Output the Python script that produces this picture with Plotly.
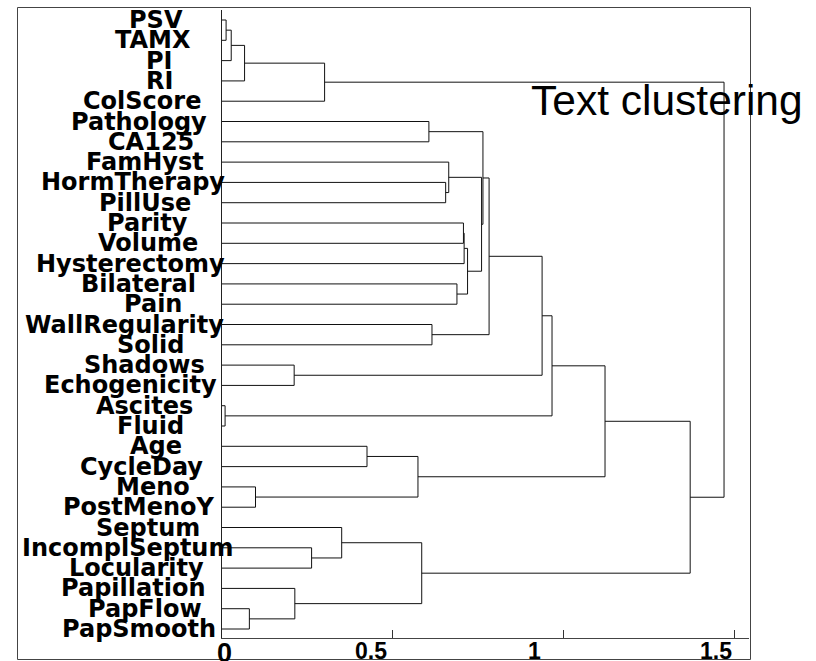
import plotly.graph_objects as go

# Leaf variables, top to bottom
leaves = [
    "PSV", "TAMX", "PI", "RI", "ColScore", "Pathology", "CA125", "FamHyst",
    "HormTherapy", "PillUse", "Parity", "Volume", "Hysterectomy", "Bilateral",
    "Pain", "WallRegularity", "Solid", "Shadows", "Echogenicity", "Ascites",
    "Fluid", "Age", "CycleDay", "Meno", "PostMenoY", "Septum", "IncomplSeptum",
    "Locularity", "Papillation", "PapFlow", "PapSmooth",
]

# Agglomeration steps: (left id, right id, merge height).
# Ids 0..30 are leaves; merge k creates cluster id 31 + k.
merge_left = [0, 31, 32, 33, 5, 8, 7, 10, 38, 13, 39, 37, 35, 15, 43,
              17, 45, 19, 47, 21, 23, 50, 49, 26, 25, 29, 28, 55, 53, 34]
merge_right = [1, 2, 3, 4, 6, 9, 36, 11, 12, 14, 40, 41, 42, 16, 44,
               18, 46, 20, 48, 22, 24, 51, 52, 27, 54, 30, 56, 57, 58, 59]
merge_height = [0.012, 0.027, 0.066, 0.300, 0.605, 0.654, 0.663, 0.706, 0.708,
                0.687, 0.718, 0.759, 0.763, 0.614, 0.781, 0.211, 0.936, 0.009,
                0.965, 0.424, 0.098, 0.573, 1.120, 0.262, 0.350, 0.080, 0.213,
                0.584, 1.369, 1.468]

tick_values = [0, 0.5, 1, 1.5]
tick_text = ["0", "0.5", "1", "1.5"]

# ---- page geometry (pixels) ----
W, H = 816, 661
ML, MR, MT, MB = 222, 67, 10, 23
PW, PH = W - ML - MR, H - MT - MB

def px_to_paper_x(px):
    return (px - ML) / PW

def py_to_paper_y(py):
    return (H - MB - py) / PH

# ---- dendrogram elbows ----
n = len(leaves)
node = {i: (0.0, float(i)) for i in range(n)}
xs, ys = [], []
for k, (a, b, h) in enumerate(zip(merge_left, merge_right, merge_height)):
    (ha, ya), (hb, yb) = node[a], node[b]
    xs += [ha, h, h, hb, None]
    ys += [ya, ya, yb, yb, None]
    node[n + k] = (h, (ya + yb) / 2)

fig = go.Figure(go.Scatter(
    x=xs, y=ys, mode="lines",
    line=dict(color="#111111", width=1),
    hoverinfo="skip", showlegend=False,
))

annotations = []

# leaf labels on the left
for i, name in enumerate(leaves):
    centre_px = 165 - 2.9 * len(name)
    annotations.append(dict(
        text=name, x=px_to_paper_x(centre_px), xref="paper",
        y=i, yref="y", xanchor="center", yanchor="middle",
        showarrow=False,
        font=dict(family="DejaVu Sans", size=24, color="black", weight="bold"),
    ))

# x-axis tick labels
label_shift = [2, -22, -29, -19]
label_size = [27, 23, 23, 23]
for v, t, s, fs in zip(tick_values, tick_text, label_shift, label_size):
    annotations.append(dict(
        text=t, x=v, xref="x", y=0, yref="paper",
        xanchor="center", yanchor="top", xshift=s, yshift=2,
        showarrow=False,
        font=dict(family="Liberation Sans Narrow, Arial Narrow, Liberation Sans, Arial",
                  size=fs, color="black", weight="bold"),
    ))

fig.update_layout(
    width=W, height=H,
    margin=dict(l=ML, r=MR, t=MT, b=MB),
    paper_bgcolor="white", plot_bgcolor="white",
    showlegend=False,
    title=dict(
        text="Text clustering",
        x=531 / W, xref="container", xanchor="left",
        y=1 - 100 / H, yref="container", yanchor="middle",
        font=dict(family="Liberation Sans, Arial", size=42.5, color="black"),
    ),
    xaxis=dict(
        range=[0, 1.541], showgrid=False, zeroline=False,
        showline=True, linecolor="#444444", linewidth=1,
        tickvals=tick_values, ticks="inside", ticklen=8,
        tickcolor="#333333", tickwidth=1, showticklabels=False,
    ),
    yaxis=dict(
        range=[n - 1 + 0.443, -0.493], showgrid=False, zeroline=False,
        showline=True, linecolor="#222222", linewidth=1,
        showticklabels=False, ticks="",
    ),
    annotations=annotations,
    shapes=[dict(
        type="rect", xref="paper", yref="paper",
        x0=px_to_paper_x(17.5), x1=px_to_paper_x(750.5),
        y0=py_to_paper_y(659.5), y1=py_to_paper_y(7.5),
        line=dict(color="#444444", width=1), fillcolor="rgba(0,0,0,0)",
    )],
)

fig.write_html("out.html")
